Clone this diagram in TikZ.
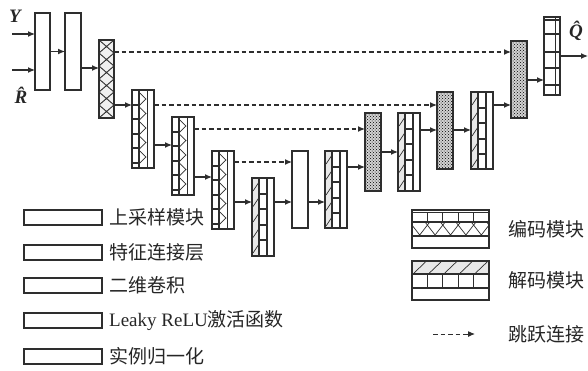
\documentclass[tikz,border=0pt]{standalone}
\usepackage{fontspec}
\setmainfont{Liberation Serif}
\newfontfamily\cjk{Noto Sans CJK SC}
\usetikzlibrary{arrows.meta,patterns}
\definecolor{ink}{HTML}{2E2E2E}
\newcommand{\lf}{\fontsize{19}{21}\selectfont}
\tikzset{
  blk/.style={draw=ink, line width=1.4pt, inner sep=0pt, outer sep=0pt, anchor=north west},
  arr/.style={-{Latex[length=7pt,width=6pt]}, line width=1.2pt, draw=ink},
  skiparr/.style={arr, dash pattern=on 4.5pt off 3pt},
  bar/.style={line width=2pt, draw=ink},
  thinl/.style={line width=0.7pt, draw=ink},
  lbl/.style={font=\lf\cjk, text=black!85, anchor=west, inner sep=0pt},
  mlbl/.style={font=\lf\bfseries\itshape, text=black!85, inner sep=0pt}
}
% encoder block: name, x, y (22 x 78)
\newcommand{\encblk}[3]{%
  \node[blk, fill=white, minimum width=22pt, minimum height=78pt] (#1) at (#2,#3) {};
  \begin{scope}[shift={(#2,#3)}]
    \foreach \k in {1,...,5}{\draw[bar] (0,14.5*\k) -- (7,14.5*\k);}
    \draw[bar] (7,0) -- (7,78);
    \draw[line width=1pt, ink] (15,0) -- (15,78);
    \foreach \k in {0,...,4}{\draw[thinl] (7.8,3+14.5*\k) -- (14,9+14.5*\k) -- (7.8,15+14.5*\k);}
    \draw[line width=1.4pt, ink] (0,0) rectangle (22,78);
  \end{scope}}
% decoder block: name, x, y, h
\newcommand{\decblk}[4]{%
  \node[blk, fill=white, minimum width=22pt, minimum height=#4pt] (#1) at (#2,#3) {};
  \begin{scope}[shift={(#2,#3)}]
    \fill[gray!18] (0.6,0.6) rectangle (7,#4-0.6);
    \foreach \k in {0,...,4}{\draw[thinl] (1,13+15.5*\k) -- (7,4+15.5*\k);}
    \draw[bar] (7,0) -- (7,#4);
    \draw[line width=1.4pt, ink] (15,0) -- (15,#4);
    \foreach \k in {1,...,4}{\draw[bar] (7,15.5*\k) -- (15,15.5*\k);}
    \draw[line width=1.4pt, ink] (0,0) rectangle (22,#4);
  \end{scope}}
% dotted block: name, x, y, h
\newcommand{\dotblk}[4]{%
  \node[blk, fill=gray!35, minimum width=16pt, minimum height=#4pt] (#1) at (#2,#3) {};
  \fill[pattern=crosshatch dots, pattern color=black] (#2,#3) rectangle ++(16,#4);
  \draw[line width=1.4pt, ink] (#2,#3) rectangle ++(16,#4);}
\begin{document}
\begin{tikzpicture}[x=1pt, y=-1pt]
\useasboundingbox (0,0) rectangle (588,370);

% input blocks
\node[blk, fill=white, minimum width=15pt, minimum height=77pt] (b1) at (35,13) {};
\node[blk, fill=white, minimum width=16pt, minimum height=77pt] (b2) at (65,13) {};
\node[blk, fill=gray!12, minimum width=15pt, minimum height=78pt] (b3) at (99,40) {};
\begin{scope}[shift={(99,40)}]
  \foreach \k in {0,...,5}{\draw[line width=0.9pt, ink] (0,13*\k) -- (15,13*\k+13) (15,13*\k) -- (0,13*\k+13);}
  \draw[line width=1.4pt, ink] (0,0) rectangle (15,78);
\end{scope}

% encoder blocks
\encblk{e1}{132}{90}
\encblk{e2}{172}{117}
\encblk{e3}{212}{151}

% decoder side
\decblk{d1}{252}{178}{78}
\node[blk, fill=white, minimum width=16pt, minimum height=77pt] (w) at (292,151) {};
\decblk{d2}{325}{151}{77}
\dotblk{p2}{365}{113}{78}
\decblk{d3}{398}{113}{78}
\dotblk{p3}{437}{92}{77}
\decblk{d4}{471}{92}{77}
\dotblk{p4}{511}{41}{77}

% final block
\node[blk, fill=white, minimum width=16pt, minimum height=78pt] (f) at (544,17) {};
\begin{scope}[shift={(544,17)}]
  \draw[thinl] (11,0) -- (11,78);
  \foreach \yy in {3,17,35,51,68}{\draw[bar] (0,\yy) -- (16,\yy);}
  \draw[line width=1.4pt, ink] (0,0) rectangle (16,78);
\end{scope}

% labels
\node[mlbl] (ylab) at (15,16) {Y};
\node[mlbl] (rlab) at (21,95) {R̂};
\node[mlbl] (qlab) at (576,31) {Q̂};

% inputs
\coordinate (yin) at (12,34);
\coordinate (rin) at (12,70);
\draw[arr] (yin) -- (yin -| b1.west);
\draw[arr] (rin) -- (rin -| b1.west);

% main arrows
\draw[arr] (b1.east) -- (b2.west);
\draw[arr] (b2.east |- 0,68) -- (b3.west |- 0,68);
\draw[arr] (b3.east |- 0,105) -- (e1.west |- 0,105);
\draw[arr] (e1.east |- 0,145) -- (e2.west |- 0,145);
\draw[arr] (e2.east |- 0,177) -- (e3.west |- 0,177);
\draw[arr] (e3.east |- 0,202) -- (d1.west |- 0,202);
\draw[arr] (d1.east |- 0,202) -- (w.west |- 0,202);
\draw[arr] (w.east |- 0,202) -- (d2.west |- 0,202);
\draw[arr] (d2.east |- 0,167) -- (p2.west |- 0,167);
\draw[arr] (p2.east |- 0,152) -- (d3.west |- 0,152);
\draw[arr] (d3.east |- 0,130) -- (p3.west |- 0,130);
\draw[arr] (p3.east |- 0,130) -- (d4.west |- 0,130);
\draw[arr] (d4.east |- 0,105) -- (p4.west |- 0,105);
\draw[arr] (p4.east |- 0,80) -- (f.west |- 0,80);
\coordinate (qout) at (588,56);
\draw[arr] (f.east |- qout) -- (qout);

% skip connections
\draw[skiparr] (b3.east |- 0,52) -- (p4.west |- 0,52);
\draw[skiparr] (e1.east |- 0,105) -- (p3.west |- 0,105);
\draw[skiparr] (e2.east |- 0,129) -- (p2.west |- 0,129);
\draw[skiparr] (e3.east |- 0,162) -- (w.west |- 0,162);

% left legend
\foreach \n/\yy in {1/210,2/245,3/278,4/313,5/349}{
  \node[blk, fill=white, minimum width=78pt, minimum height=15pt, line width=1.2pt] (lg\n) at (24,\yy) {};
}
\node[lbl] (t1) at ([xshift=7pt]lg1.east) {上采样模块};
\node[lbl] (t2) at ([xshift=7pt]lg2.east) {特征连接层};
\node[lbl] (t3) at ([xshift=7pt]lg3.east) {二维卷积};
\node[lbl] (t4) at ([xshift=7pt]lg4.east) {{\rmfamily Leaky ReLU}激活函数};
\node[lbl] (t5) at ([xshift=7pt]lg5.east) {实例归一化};

% right legend: encoder
\node[blk, fill=white, minimum width=77pt, minimum height=38pt] (le) at (412,210) {};
\begin{scope}[shift={(412,210)}]
  \draw[thinl] (0,2.5) -- (77,2.5);
  \foreach \k in {1,...,4}{\draw[line width=1.3pt, ink] (15.4*\k,2.5) -- (15.4*\k,12);}
  \begin{scope}
    \clip (0,12) rectangle (77,26);
    \foreach \k in {0,...,5}{\draw[thinl] (15.4*\k-2,12.5) -- (15.4*\k+7.7,25) -- (15.4*\k+17.4,12.5);}
  \end{scope}
  \draw[bar] (0,12) -- (77,12);
  \draw[bar] (0,26) -- (77,26);
  \draw[line width=1.4pt, ink] (0,0) rectangle (77,38);
\end{scope}
\node[lbl] (te) at ([xshift=19pt]le.east) {编码模块};

% right legend: decoder
\node[blk, fill=white, minimum width=77pt, minimum height=39pt] (ld) at (412,261) {};
\begin{scope}[shift={(412,261)}]
  \fill[gray!18] (0,0) rectangle (77,13);
  \foreach \k in {0,...,4}{\draw[thinl] (15.4*\k+2,12) -- (15.4*\k+13.5,1);}
  \draw[bar] (0,13) -- (77,13);
  \foreach \k in {1,...,4}{\draw[line width=1.3pt, ink] (15.4*\k,13) -- (15.4*\k,27);}
  \draw[line width=1.3pt, ink] (0,27) -- (77,27);
  \draw[line width=1.4pt, ink] (0,0) rectangle (77,39);
\end{scope}
\node[lbl] (td) at ([xshift=19pt]ld.east) {解码模块};

% right legend: skip
\coordinate (ls1) at (433,334);
\coordinate (ls2) at (475,334);
\draw[skiparr, line width=1pt] (ls1) -- (ls2);
\node[lbl] (ts) at (508,334) {跳跃连接};
\end{tikzpicture}
\end{document}
